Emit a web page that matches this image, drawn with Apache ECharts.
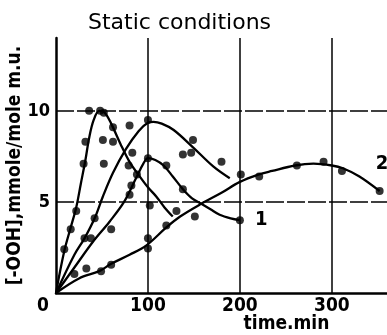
<!DOCTYPE html>
<html>
<head>
<meta charset="utf-8">
<script src="https://cdn.jsdelivr.net/npm/echarts@6/dist/echarts.min.js"></script>
<style>
  html, body { margin: 0; padding: 0; background: #fff; }
  #chart { width: 387px; height: 335px; }
</style>
</head>
<body>
<div id="chart"></div>
<script>
// ticks
const xTicks = [100, 200, 300];
const yTicks = [5, 10];

// fitted curves (time, min ; [-OOH], mmole/mole m.u.)
const curveA = [[0,0],[9,2.3],[16,3.6],[22,4.7],[27,6.0],[32,7.3],[36,8.5],[41,9.5],[47,10.0],[53,9.9],[60,9.3],[70,8.2],[80,7.2],[91,6.4],[100,5.8],[109,5.3],[118,4.7],[127,4.2]];
const curveB = [[0,0],[20,2.1],[31,3.0],[42,4.1],[51,5.3],[62,6.6],[76,7.9],[90,8.9],[100,9.35],[106,9.4],[115,9.3],[128,8.95],[149,8.0],[171,6.95],[189,6.3]];
const curve1 = [[0,0],[20,1.4],[40,2.8],[58,3.9],[74,5.0],[87,6.3],[95,7.1],[100,7.4],[108,7.3],[117,7.0],[127,6.4],[138,5.7],[148,5.2],[158,4.9],[168,4.6],[178,4.3],[190,4.1],[200,4.0]];
const curve2 = [[0,0],[25,0.8],[47,1.2],[60,1.6],[80,2.1],[98,2.6],[120,3.6],[135,4.2],[158,4.9],[180,5.5],[200,6.1],[220,6.5],[235,6.7],[260,7.0],[280,7.1],[300,7.0],[312,6.85],[330,6.4],[352,5.6]];

// measured points
const points = [
  [36,10.0],[48,10.0],[52,9.9],[32,8.3],[30,7.1],[51,8.4],[52,7.1],[62,9.1],[62,8.3],
  [80,9.2],[83,7.7],[79,7.0],[88,6.5],[82,5.9],[80,5.4],[100,9.5],[100,7.4],[120,7.0],
  [138,7.6],[147,7.7],[149,8.4],[180,7.2],[201,6.5],[221,6.4],[262,7.0],[291,7.2],
  [311,6.7],[352,5.6],
  [9,2.4],[16,3.5],[22,4.5],[31,3.0],[38,3.0],[42,4.1],[60,3.5],[20,1.05],[33,1.35],
  [49,1.2],[60,1.55],[100,3.0],[100,2.45],[102,4.8],[120,3.7],[131,4.5],[138,5.7],
  [151,4.2],[200,4.0]
];

const FONT = 'DejaVu Sans Condensed';
const chart = echarts.init(document.getElementById('chart'));

function curve(data, label, offset) {
  return {
    type: 'line',
    data: data,
    smooth: 0.35,
    symbol: 'none',
    silent: true,
    lineStyle: { color: '#000', width: 2.3 },
    endLabel: label ? {
      show: true,
      formatter: label,
      offset: offset,
      color: '#000',
      fontFamily: FONT,
      fontWeight: 'bold',
      fontSize: 20
    } : { show: false }
  };
}

chart.setOption({
  animation: false,
  backgroundColor: '#fff',
  title: {
    text: 'Static conditions',
    left: 83,
    top: 7,
    textStyle: { fontFamily: 'DejaVu Sans', fontSize: 22, fontWeight: 'normal', color: '#000' }
  },
  grid: { left: 56, right: 0, top: 38, bottom: 42, containLabel: false, outerBoundsMode: 'none' },
  xAxis: {
    type: 'value',
    min: 0,
    max: 360,
    interval: 100,
    name: 'time.min',
    nameLocation: 'middle',
    nameGap: 22,
    nameMoveOverlap: false,
    nameTextStyle: { fontFamily: FONT, fontWeight: 'bold', fontSize: 19, color: '#000', padding: [0, 0, 0, 130] },
    axisLine: { show: true, lineStyle: { color: '#000', width: 2.5 } },
    axisTick: { show: false },
    splitLine: { show: false },
    axisLabel: {
      margin: 4,
      color: '#000',
      fontFamily: FONT,
      fontWeight: 'bold',
      fontSize: 19,
      formatter: v => v === 0 ? '{z|0}' : (xTicks.includes(v) ? String(v) : ''),
      rich: { z: { fontFamily: FONT, fontWeight: 'bold', fontSize: 19, color: '#000', padding: [0, 26, 0, 0] } }
    }
  },
  yAxis: {
    type: 'value',
    min: 0,
    max: 14,
    interval: 5,
    name: '[-OOH],mmole/mole m.u.',
    nameLocation: 'middle',
    nameGap: 31,
    nameMoveOverlap: false,
    nameTextStyle: { fontFamily: FONT, fontWeight: 'bold', fontSize: 19, color: '#000' },
    axisLine: { show: true, lineStyle: { color: '#000', width: 2.5 } },
    axisTick: { show: false },
    splitLine: { show: false },
    axisLabel: {
      margin: 6,
      color: '#000',
      fontFamily: FONT,
      fontWeight: 'bold',
      fontSize: 18,
      formatter: v => yTicks.includes(v) ? String(v) : ''
    }
  },
  series: [
    {
      type: 'line',
      data: [],
      silent: true,
      markLine: {
        silent: true,
        symbol: 'none',
        label: { show: false },
        data: xTicks.map(v => ({ xAxis: v, lineStyle: { color: '#000', width: 1.5, type: 'solid' } }))
          .concat(yTicks.map(v => ({ yAxis: v, lineStyle: { color: '#000', width: 1.5, type: [18, 3] } })))
      }
    },
    curve(curveA),
    curve(curveB),
    curve(curve1, '1', [7, 0]),
    curve(curve2, '2', [-12, -27]),
    {
      type: 'scatter',
      data: points,
      symbol: 'circle',
      symbolSize: 8,
      itemStyle: { color: '#000' },
      silent: true
    }
  ]
});
</script>
</body>
</html>
